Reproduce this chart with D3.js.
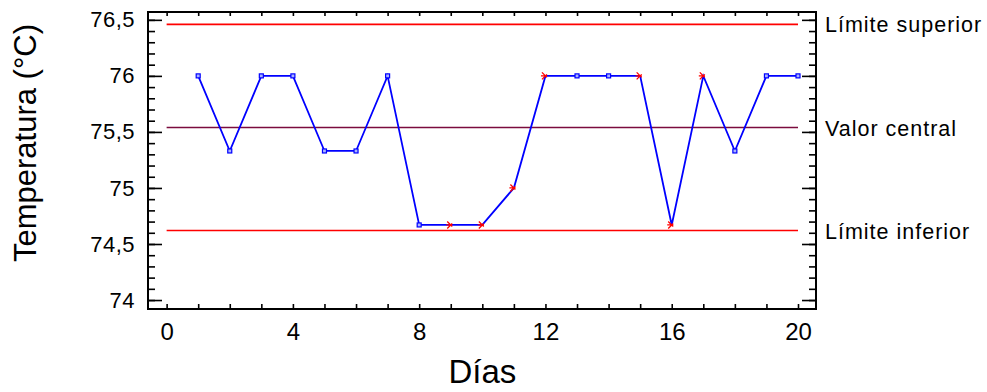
<!DOCTYPE html>
<html>
<head>
<meta charset="utf-8">
<script src="https://cdn.jsdelivr.net/npm/d3@7"></script>
<style>
  body { margin: 0; background: #fff; }
  svg text { font-family: "Liberation Sans", Arial, sans-serif; fill: #000; }
</style>
</head>
<body>
<div id="chart"></div>
<script>
// data
var dias = [1, 2, 3, 4, 5, 6, 7, 8, 9, 10, 11, 12, 13, 14, 15, 16, 17, 18, 19, 20]
var temperatura = [76, 75.33, 76, 76, 75.33, 75.33, 76, 74.67, 74.67, 74.67,
                   75, 76, 76, 76, 76, 74.67, 76, 75.33, 76, 76]
var marcados = [9, 10, 11, 12, 15, 16, 17]   // points drawn with the red mark
var limites = [
  {name: "Límite superior", value: 76.46, color: "#ff0000"},
  {name: "Valor central",   value: 75.54, color: "#7b0c3e"},
  {name: "Límite inferior", value: 74.62, color: "#ff0000"}
]
var xTicks = [0, 4, 8, 12, 16, 20]
var yTicks = [74, 74.5, 75, 75.5, 76, 76.5]

var W = 987, H = 392
var plot = {left: 148, right: 816, top: 12, bottom: 309}

var svg = d3.select("#chart").append("svg")
  .attr("width", W).attr("height", H)

var x = d3.scaleLinear().domain([-0.59, 20.57]).range([plot.left, plot.right])
var y = d3.scaleLinear().domain([73.92, 76.57]).range([plot.bottom, plot.top])

var fmt = function(d) { return String(d).replace(".", ",") }

// left axis, major + minor
var minorY = d3.range(74, 76.51, 0.1).map(function(d) { return +d.toFixed(1) })
var minorX = d3.range(0, 21, 1)

svg.append("g").attr("transform", "translate(" + plot.left + ",0)")
  .call(d3.axisLeft(y).tickValues(minorY).tickSizeInner(-7).tickSizeOuter(0).tickFormat(""))
svg.append("g").attr("class", "ylab").attr("transform", "translate(" + plot.left + ",0)")
  .call(d3.axisLeft(y).tickValues(yTicks).tickSizeInner(-14).tickSizeOuter(0).tickPadding(13).tickFormat(fmt))

// right axis
svg.append("g").attr("transform", "translate(" + plot.right + ",0)")
  .call(d3.axisRight(y).tickValues(minorY).tickSizeInner(-7).tickSizeOuter(0).tickFormat(""))
svg.append("g").attr("transform", "translate(" + plot.right + ",0)")
  .call(d3.axisRight(y).tickValues(yTicks).tickSizeInner(-14).tickSizeOuter(0).tickFormat(""))

// bottom + top axes
svg.append("g").attr("class", "xlab").attr("transform", "translate(0," + plot.bottom + ")")
  .call(d3.axisBottom(x).tickValues(minorX).tickSizeInner(-5).tickSizeOuter(0).tickPadding(14)
    .tickFormat(function(d) { return xTicks.indexOf(d) >= 0 ? d : "" }))
svg.append("g").attr("transform", "translate(0," + plot.top + ")")
  .call(d3.axisTop(x).tickValues(minorX).tickSizeInner(-4).tickSizeOuter(0).tickFormat(""))

svg.selectAll(".domain").remove()
svg.selectAll(".tick line").attr("stroke", "#000").attr("stroke-width", 1.6)
svg.selectAll(".ylab text").style("font-size", "22px").style("letter-spacing", "0.5px")
svg.selectAll(".xlab text").style("font-size", "24px")

// frame
svg.append("rect")
  .attr("x", plot.left).attr("y", plot.top)
  .attr("width", plot.right - plot.left).attr("height", plot.bottom - plot.top)
  .attr("fill", "none").attr("stroke", "#000").attr("stroke-width", 2)

// control limits
svg.selectAll(".lim").data(limites).enter().append("line")
  .attr("x1", x(0)).attr("x2", x(20))
  .attr("y1", function(d) { return y(d.value) })
  .attr("y2", function(d) { return y(d.value) })
  .attr("stroke", function(d) { return d.color })
  .attr("stroke-width", 1.6)

svg.selectAll(".limlab").data(limites).enter().append("text")
  .attr("x", plot.right + 9)
  .attr("y", function(d) { return y(d.value) })
  .attr("dy", "0.38em")
  .style("font-size", "21.5px")
  .style("letter-spacing", "1px")
  .text(function(d) { return d.name })

// series line
var pts = dias.map(function(d, i) { return {dia: d, val: temperatura[i]} })
svg.append("path").datum(pts)
  .attr("fill", "none").attr("stroke", "#0000ff").attr("stroke-width", 1.8)
  .attr("d", d3.line().x(function(d) { return x(d.dia) }).y(function(d) { return y(d.val) }))

// normal points: small open squares
svg.selectAll(".pt").data(pts.filter(function(d) { return marcados.indexOf(d.dia) < 0 }))
  .enter().append("rect")
  .attr("x", function(d) { return x(d.dia) - 2 })
  .attr("y", function(d) { return y(d.val) - 2 })
  .attr("width", 4).attr("height", 4)
  .attr("fill", "#aab4ff").attr("stroke", "#0000ff").attr("stroke-width", 1.2)

// flagged points: red asterisk marks
svg.selectAll(".flag").data(pts.filter(function(d) { return marcados.indexOf(d.dia) >= 0 }))
  .enter().append("path")
  .attr("transform", function(d) { return "translate(" + x(d.dia) + "," + y(d.val) + ")" })
  .attr("d", "M-3.5,-3.5L1.5,1.5M-3.5,3.5L1.5,-1.5M-4.5,0L1.5,0")
  .attr("fill", "none").attr("stroke", "#ff0000").attr("stroke-width", 1.3)

// axis titles
svg.append("text")
  .attr("x", x(10)).attr("y", 383)
  .attr("text-anchor", "middle")
  .style("font-size", "33px")
  .text("Días")

svg.append("text")
  .attr("transform", "translate(36,143) rotate(-90)")
  .attr("text-anchor", "middle")
  .style("font-size", "31px")
  .text("Temperatura (°C)")
</script>
</body>
</html>
